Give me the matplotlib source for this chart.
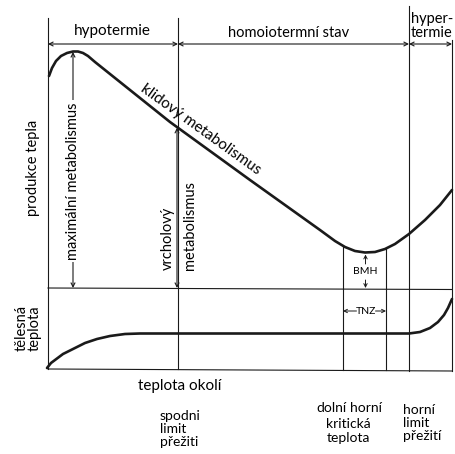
import numpy as np
import matplotlib
matplotlib.use("Agg")
import matplotlib.pyplot as plt

plt.rcParams['font.family'] = ['Lato', 'DejaVu Sans']

# okoli (x) vs. produkce tepla (y), odecteno z obrazku, y roste dolu
klid_x = [49, 52, 56, 61, 67, 73, 78, 83, 88, 95, 105, 170, 250, 320, 335, 345,
          355, 365, 375, 385, 395, 409, 425, 440, 452]
klid_y = [76, 68, 61, 56, 53, 51.5, 51.5, 53, 56, 62, 70, 122, 180, 230, 241, 247,
          251, 252.5, 252, 249, 244, 234, 220, 205, 190]

# telesna teplota
tel_x = [47, 51, 55, 63, 73, 85, 97, 110, 125, 140, 409, 420, 430, 438, 444, 448, 452]
tel_y = [368, 363, 360, 354, 349, 343, 339, 336, 334, 333.5, 333.5, 332, 328, 322, 315, 308, 299]

# hranice oblasti na ose okoli
hranice = [48, 178, 409, 452]
tnz_hranice = [343, 386]
zony = ['hypotermie', 'homoiotermní stav', 'hyper-\ntermie']

top, delic, dno = 18, 288, 369
ink = '#1a1a1a'

fig = plt.figure(figsize=(4.55, 4.54), dpi=100)
ax = fig.add_axes([0, 0, 1, 1])
ax.set_xlim(0, 455)
ax.set_ylim(454, 0)
ax.axis('off')

thin = dict(color=ink, lw=0.8)

# ramecek
ax.plot([hranice[0], hranice[0]], [top, dno], **thin)
ax.plot([hranice[1], hranice[1]], [top, dno], **thin)
ax.plot([hranice[2], hranice[2]], [6, dno + 2], **thin)
ax.plot([hranice[3], hranice[3]], [40, dno + 2], **thin)
ax.plot([hranice[0], hranice[3]], [delic, delic + 1.5], **thin)
ax.plot([hranice[0], hranice[3]], [dno, dno + 2], **thin)

# TNZ svislice
for xb in tnz_hranice:
    yb = np.interp(xb, klid_x, klid_y)
    ax.plot([xb, xb], [yb, dno + 1], **thin)

# krivky
ax.plot(klid_x, klid_y, color=ink, lw=1.9, solid_capstyle='round')
ax.plot(tel_x, tel_y, color=ink, lw=1.9, solid_capstyle='round')

arr = dict(arrowstyle='<->', color=ink, lw=0.8, shrinkA=0, shrinkB=0,
           mutation_scale=7)

# zony nahore
ya = 44
for a, b in zip(hranice[:-1], hranice[1:]):
    ax.annotate('', xy=(a, ya), xytext=(b, ya), arrowprops=arr)
ax.text(112, 31, zony[0], ha='center', va='center', fontsize=11)
ax.text(289, 33, zony[1], ha='center', va='center', fontsize=10.5)
ax.text(411, 26, zony[2], ha='left', va='center', fontsize=10.5, linespacing=1.0)

# maximalni metabolismus
xm = 73
ax.annotate('', xy=(xm, 52), xytext=(xm, delic), arrowprops=arr)
ax.text(xm, 181, 'maximální metabolismus', rotation=90, ha='center', va='center',
        fontsize=10.5, bbox=dict(fc='white', ec='none', pad=1.5))

# vrcholovy metabolismus
yv = np.interp(hranice[1], klid_x, klid_y)
ax.annotate('', xy=(hranice[1] - 1, yv), xytext=(hranice[1] - 1, delic), arrowprops=arr)
ax.text(168, 270, 'vrcholový', rotation=90, rotation_mode='anchor', ha='left',
        va='center', fontsize=10.5)
ax.text(190, 270, 'metabolismus', rotation=90, rotation_mode='anchor', ha='left',
        va='center', fontsize=10.5)

# klidovy metabolismus
ang = np.degrees(np.arctan(0.72))
ax.text(201, 129, 'klidový metabolismus', rotation=-ang, rotation_mode='anchor',
        ha='center', va='center', fontsize=11)

# BMH
xc = sum(tnz_hranice) / 2 + 1
ydol = max(klid_y)
ax.text(xc, 272, 'BMH', ha='center', va='center', fontsize=7.5)
small = dict(arrowstyle='->', color=ink, lw=0.7, shrinkA=0, shrinkB=0, mutation_scale=6)
ax.annotate('', xy=(xc, ydol + 2), xytext=(xc, 264), arrowprops=small)
ax.annotate('', xy=(xc, delic), xytext=(xc, 280), arrowprops=small)

# TNZ
ax.text(xc, 311, 'TNZ', ha='center', va='center', fontsize=7.5)
ax.annotate('', xy=(tnz_hranice[0], 311), xytext=(xc - 9, 311), arrowprops=small)
ax.annotate('', xy=(tnz_hranice[1], 311), xytext=(xc + 10, 311), arrowprops=small)

# popisky os
ax.text(33, 168, 'produkce tepla', rotation=90, ha='center', va='center', fontsize=10.5)
ax.text(28, 328, 'tělesná\nteplota', rotation=90, ha='center', va='center',
        fontsize=10.5, linespacing=0.9, multialignment='center')
ax.text(180, 386, 'teplota okolí', ha='center', va='center', fontsize=11)

ax.text(160, 429, 'spodni\nlimit\npřežiti', ha='left', va='center', fontsize=10,
        linespacing=1.1)
ax.text(331, 408, 'dolní', ha='center', va='center', fontsize=10)
ax.text(366, 408, 'horní', ha='center', va='center', fontsize=10)
ax.text(348, 431, 'kritická\nteplota', ha='center', va='center', fontsize=10,
        linespacing=1.1)
ax.text(403, 423, 'horní\nlimit\npřežití', ha='left', va='center', fontsize=10,
        linespacing=1.1)

fig.savefig('out.png', dpi=100, facecolor='white')
